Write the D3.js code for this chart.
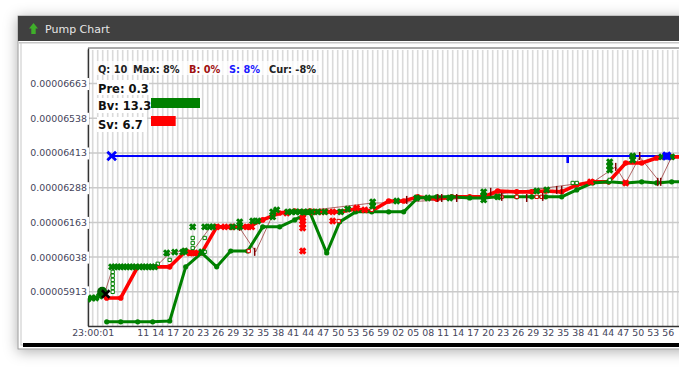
<!DOCTYPE html>
<html lang="en">
<head>
<meta charset="UTF-8" />
<title>Pump Chart</title>
<script src="https://d3js.org/d3.v7.min.js"></script>
<style>
    * { margin: 0; padding: 0; box-sizing: border-box; }
    body { background: #fff; overflow: hidden; }
    svg { display: block; }
    text { font-family: "DejaVu Sans", sans-serif; }
</style>
</head>
<body>
<svg width="679" height="372"></svg>
<script>
// prices are in units of 0.00000001, time in seconds after 23:00:00
var yTicks = [5913, 6038, 6163, 6288, 6413, 6538, 6663];
var xTickSec = [1, 11, 14, 17, 20, 23, 26, 29, 32, 35, 38, 41, 44, 47, 50, 53, 56, 59, 62, 65, 68, 71, 74, 77, 80, 83, 86, 89, 92, 95, 98, 101, 104, 107, 110, 113, 116];
var xTickLabels = ["23:00:01", "11", "14", "17", "20", "23", "26", "29", "32", "35", "38", "41", "44", "47", "50", "53", "56", "59", "02", "05", "08", "11", "14", "17", "20", "23", "26", "29", "32", "35", "38", "41", "44", "47", "50", "53", "56"];

// thick step lines
var stepSec = [3.8, 6.6, 10, 13, 16.4, 19.6, 22.8, 25.8, 28.6, 32, 35, 38.4, 41.4, 44.4, 47.8, 50.4, 53.6, 56.8, 60.2, 63.2, 66, 69.8, 72.8, 76.4, 79.2, 82, 85.8, 88.8, 91.6, 94.8, 97.8, 101, 104.2, 107.6, 110.8, 113.8, 116.8, 119];
var greenVals = [5805, 5805, 5805, 5805, 5808, 6003, 6053, 6003, 6060, 6060, 6147, 6147, 6172, 6201, 6053, 6165, 6201, 6201, 6201, 6201, 6251, 6255, 6255, 6251, 6251, 6255, 6255, 6255, 6255, 6255, 6280, 6305, 6309, 6305, 6309, 6305, 6309, 6309];
var redVals = [5891, 5891, 6003, 6003, 6003, 6060, 6053, 6147, 6147, 6147, 6172, 6197, 6204, 6204, 6201, 6201, 6211, 6204, 6240, 6240, 6255, 6247, 6255, 6255, 6255, 6276, 6273, 6273, 6276, 6273, 6298, 6309, 6309, 6377, 6377, 6395, 6399, 6399];

// thin trade path
var tradeSec = [3.4, 5, 14, 16.4, 19, 21, 24.4, 30.4, 33.6, 37, 57, 60.8, 76.4, 97.4, 100.8, 105.6, 107.6, 110.4, 114.4, 116.8];
var tradeVals = [5909, 5999, 6010, 6053, 6060, 6060, 6143, 6143, 6057, 6190, 6233, 6233, 6251, 6301, 6305, 6363, 6305, 6399, 6309, 6399];

// green crosses
var buySec = [0, 0.8, 1.6, 2.4, 4.8, 5.4, 6, 6.6, 7.2, 7.8, 8.4, 9, 9.6, 10.4, 11, 11.6, 12.2, 12.8, 13.4, 15.8, 17.4, 19, 19.4, 22.8, 21, 23.4, 24.4, 25, 29, 30.4, 30.4, 33, 34, 37, 37, 37.8, 40, 40.8, 41.6, 42.4, 43.2, 44, 44.8, 46, 47.4, 50.6, 52, 57, 57, 61.8, 65.8, 68, 72.4, 79.2, 79.2, 79.2, 82, 89.8, 91.8, 104.4, 104.4, 104.4, 109, 109, 114.8, 116.8];
var buyVals = [5887, 5891, 5891, 5898, 6003, 6003, 6003, 6003, 6003, 6003, 6003, 6003, 6003, 6003, 6003, 6003, 6003, 6003, 6003, 6053, 6056, 6056, 6060, 6057, 6147, 6147, 6147, 6147, 6147, 6147, 6165, 6168, 6168, 6201, 6183, 6208, 6201, 6201, 6201, 6201, 6201, 6201, 6201, 6201, 6201, 6201, 6211, 6237, 6222, 6240, 6251, 6251, 6251, 6273, 6258, 6244, 6255, 6276, 6280, 6381, 6366, 6352, 6402, 6388, 6399, 6399];

// hollow green squares
var buySqSec = [5, 5, 5, 5, 5, 5, 14, 16.4, 21, 21, 21, 23.4, 23.4, 104.4, 97, 97.8];
var buySqVals = [5985, 5971, 5956, 5942, 5927, 5913, 6014, 6028, 6107, 6089, 6071, 6107, 6057, 6316, 6305, 6305];

// red crosses
var sellSec = [20.4, 21.4, 25.8, 27.4, 28.8, 31.8, 32.8, 43, 43, 43, 43, 43, 49, 39.8, 46.8, 49, 45, 53.8, 55.4, 107.6, 100.6];
var sellVals = [6053, 6053, 6147, 6147, 6147, 6147, 6147, 6179, 6168, 6157, 6143, 6060, 6168, 6197, 6201, 6201, 6201, 6215, 6208, 6305, 6309];

// hollow red squares
var sellSqSec = [32.2, 50.2, 56.8, 82.8, 85.8, 89.8, 90.8];
var sellSqVals = [6060, 6168, 6208, 6255, 6255, 6255, 6255];

// dark red ticks
var markSec = [33.4, 30.4, 63.8, 70, 70.8, 73.8, 80.6, 82.8, 87.8, 91, 93.8, 94.8, 105.6, 110.4, 114, 114.6];
var markVals = [6057, 6147, 6244, 6251, 6251, 6251, 6273, 6255, 6251, 6255, 6280, 6280, 6363, 6402, 6309, 6309];

// blue target line and its markers
var targetVal = 6402;
var targetStart = 4.8;
var targetTickSec = 96;
var targetEndSec = 115.8;

// header figures
var headerParts = ["Q: 10", "Max: 8%", "B: 0%", "S: 8%", "Cur: -8%"];
var volNames = ["Bv: 13.3", "Sv: 6.7"];
var volValues = [13.3, 6.7];
var preLabel = "Pre: 0.3";

var svg = d3.select("svg");
var width = 679, height = 372;

var x = d3.scaleLinear().domain([0, 120]).range([87.7, 687.7]);
var y = d3.scaleLinear().domain([5790, 6791]).range([326, 48]);
var plotLeft = 88, plotTop = 48, plotBottom = 326;

function zip(a, b) { return a.map(function(d, i) { return [d, b[i]]; }); }

// window frame with shadow
var defs = svg.append("defs");
var shadow = defs.append("filter").attr("id", "shadow")
    .attr("x", "-10%").attr("y", "-15%").attr("width", "130%").attr("height", "130%");
shadow.append("feDropShadow").attr("dx", 0).attr("dy", 2).attr("stdDeviation", 7)
    .attr("flood-color", "#000").attr("flood-opacity", 0.32);
defs.append("clipPath").attr("id", "plot").append("rect")
    .attr("x", plotLeft).attr("y", plotTop).attr("width", width - plotLeft).attr("height", plotBottom - plotTop);

svg.append("rect").attr("x", 18).attr("y", 16).attr("width", 700).attr("height", 333)
    .attr("fill", "#fff").attr("stroke", "#9a9a9a").attr("filter", "url(#shadow)");
svg.append("rect").attr("x", 18).attr("y", 16).attr("width", 700).attr("height", 25).attr("fill", "#404040");
svg.append("rect").attr("x", 19).attr("y", 42).attr("width", 700).attr("height", 1.5).attr("fill", "#c4c4c4");
svg.append("rect").attr("x", 21).attr("y", 43).attr("width", 700).attr("height", 302).attr("fill", "#fff").attr("stroke", "#c8c8c8");
svg.append("rect").attr("x", 23).attr("y", 343).attr("width", 700).attr("height", 4).attr("fill", "#000");

// title icon and title
svg.append("path")
    .attr("d", "M33.5 23 L38 28.5 L35.7 28.5 L35.7 34 L31.3 34 L31.3 28.5 L29 28.5 Z")
    .attr("fill", "#3fae2a");
svg.append("text").attr("x", 45).attr("y", 33).attr("font-size", 11).attr("fill", "#e6e6e6").text("Pump Chart");

// grid
var gridSec = d3.range(0, 120);
svg.append("g").selectAll("line").data(gridSec).enter().append("line")
    .attr("x1", function(d) { return x(d); })
    .attr("x2", function(d) { return x(d); })
    .attr("y1", plotTop + 2).attr("y2", plotBottom)
    .attr("stroke", "#dadada").attr("stroke-width", 1.6);
svg.append("g").selectAll("line").data(yTicks).enter().append("line")
    .attr("x1", plotLeft - 3).attr("x2", width)
    .attr("y1", function(d) { return y(d); })
    .attr("y2", function(d) { return y(d); })
    .attr("stroke", "#cacaca").attr("stroke-width", 1.5);

// axes
var yAxis = d3.axisLeft(y).tickValues(yTicks).tickSize(0).tickPadding(1)
    .tickFormat(function(d) { return (d * 1e-8).toFixed(8); });
var yG = svg.append("g").attr("transform", "translate(" + plotLeft + ",0)").call(yAxis);
yG.select(".domain").attr("stroke", "#333").attr("stroke-width", 1.4);
// labels sit on a white patch that breaks the axis line
yG.selectAll(".tick").insert("rect", "text")
    .attr("x", -58).attr("y", -6).attr("width", 59).attr("height", 12).attr("fill", "#fff");
yG.selectAll("text").attr("font-size", 9.4).attr("fill", "#44445a")
    .style("font-family", "'DejaVu Sans', sans-serif");

var xAxis = d3.axisBottom(x).tickValues(xTickSec).tickSize(0).tickPadding(3)
    .tickFormat(function(d, i) { return xTickLabels[i]; });
var xG = svg.append("g").attr("transform", "translate(0," + plotBottom + ")").call(xAxis);
xG.select(".domain").attr("stroke", "#333").attr("stroke-width", 1.4);
xG.selectAll("text").attr("font-size", 9.4).attr("fill", "#44445a")
    .style("font-family", "'DejaVu Sans', sans-serif");

svg.append("line").attr("x1", plotLeft).attr("x2", width).attr("y1", plotTop).attr("y2", plotTop)
    .attr("stroke", "#555").attr("stroke-width", 1);

var plot = svg.append("g").attr("clip-path", "url(#plot)");
var line = d3.line().x(function(d) { return x(d[0]); }).y(function(d) { return y(d[1]); });

// blue line
plot.append("line")
    .attr("x1", x(targetStart)).attr("x2", width)
    .attr("y1", y(targetVal)).attr("y2", y(targetVal))
    .attr("stroke", "#0000ff").attr("stroke-width", 2);

// thin trades
plot.append("path").datum(zip(tradeSec, tradeVals)).attr("d", line)
    .attr("fill", "none").attr("stroke", "#800000").attr("stroke-opacity", 0.6).attr("stroke-width", 1);

// thick lines
var redData = zip(stepSec, redVals);
var greenData = zip(stepSec, greenVals);
plot.append("path").datum(redData).attr("d", line)
    .attr("fill", "none").attr("stroke", "#ff0000").attr("stroke-width", 3.6).attr("stroke-linejoin", "round");
plot.append("g").selectAll("circle").data(redData).enter().append("circle")
    .attr("cx", function(d) { return x(d[0]); }).attr("cy", function(d) { return y(d[1]); })
    .attr("r", 2.8).attr("fill", "#ff0000");
plot.append("path").datum(greenData).attr("d", line)
    .attr("fill", "none").attr("stroke", "#008000").attr("stroke-width", 3).attr("stroke-linejoin", "round");
plot.append("g").selectAll("circle").data(greenData).enter().append("circle")
    .attr("cx", function(d) { return x(d[0]); }).attr("cy", function(d) { return y(d[1]); })
    .attr("r", 2.6).attr("fill", "#008000");

// markers
var cross = d3.symbol().type(d3.symbolTimes).size(20);
var square = d3.symbol().type(d3.symbolSquare).size(11);
function place(d) { return "translate(" + x(d[0]) + "," + y(d[1]) + ")"; }

plot.append("g").selectAll("path").data(zip(sellSec, sellVals)).enter().append("path")
    .attr("d", cross).attr("transform", place)
    .attr("fill", "none").attr("stroke", "#ff0000").attr("stroke-width", 3);
plot.append("g").selectAll("path").data(zip(sellSqSec, sellSqVals)).enter().append("path")
    .attr("d", square).attr("transform", place)
    .attr("fill", "#fff").attr("stroke", "#e00000").attr("stroke-width", 1);
plot.append("g").selectAll("path").data(zip(markSec, markVals)).enter().append("line")
    .attr("x1", function(d) { return x(d[0]); }).attr("x2", function(d) { return x(d[0]); })
    .attr("y1", function(d) { return y(d[1]) - 4; }).attr("y2", function(d) { return y(d[1]) + 4; })
    .attr("stroke", "#800000").attr("stroke-width", 1.5);
plot.append("g").selectAll("path").data(zip(buySqSec, buySqVals)).enter().append("path")
    .attr("d", square).attr("transform", place)
    .attr("fill", "#fff").attr("stroke", "#008000").attr("stroke-width", 1);
plot.append("g").selectAll("path").data(zip(buySec, buyVals)).enter().append("path")
    .attr("d", cross).attr("transform", place)
    .attr("fill", "none").attr("stroke", "#008000").attr("stroke-width", 3);

// entry marks
plot.append("circle").attr("cx", x(2.9)).attr("cy", y(5913)).attr("r", 5).attr("fill", "#006400");
plot.append("path").attr("d", d3.symbol().type(d3.symbolTimes).size(40))
    .attr("transform", place([3.6, 5905])).attr("fill", "none").attr("stroke", "#000").attr("stroke-width", 2.6);

plot.append("path").attr("d", d3.symbol().type(d3.symbolTimes).size(50))
    .attr("transform", place([targetStart, targetVal])).attr("fill", "none").attr("stroke", "#0000ff").attr("stroke-width", 2.8);
plot.append("line")
    .attr("x1", x(targetTickSec)).attr("x2", x(targetTickSec))
    .attr("y1", y(targetVal)).attr("y2", y(targetVal) + 7)
    .attr("stroke", "#0000ff").attr("stroke-width", 2.6);
plot.append("path").attr("d", d3.symbol().type(d3.symbolTimes).size(36))
    .attr("transform", place([targetEndSec, targetVal])).attr("fill", "none").attr("stroke", "#0000ff").attr("stroke-width", 3);
plot.append("circle").attr("cx", x(targetEndSec)).attr("cy", y(targetVal)).attr("r", 3.6).attr("fill", "#0000ff");

// header text
var headerX = [98, 133, 189, 229, 269];
var headerColors = ["#222", "#222", "#a01010", "#1a1aff", "#222"];
svg.append("rect").attr("x", 95).attr("y", 61).attr("width", 226).attr("height", 14).attr("fill", "#fff").attr("fill-opacity", 0.75);
svg.append("g").selectAll("text").data(headerParts).enter().append("text")
    .attr("x", function(d, i) { return headerX[i]; })
    .attr("y", 73)
    .attr("font-size", 9.8).attr("font-weight", "bold")
    .attr("fill", function(d, i) { return headerColors[i]; })
    .text(function(d) { return d; });

// volume labels and bars
var volScale = d3.scaleLinear().domain([0, 13.3]).range([0, 49]);
var volY = [110, 129];
var volBarY = [98, 116];
var volColors = ["#008000", "#ff0000"];
svg.append("rect").attr("x", 97).attr("y", 80).attr("width", 52).attr("height", 15).attr("fill", "#fff");
svg.append("text").attr("x", 98).attr("y", 92.5).attr("font-size", 11.5).attr("font-weight", "bold").attr("fill", "#111").text(preLabel);
svg.append("g").selectAll("rect").data(volValues).enter().append("rect")
    .attr("x", 97).attr("y", function(d, i) { return volY[i] - 12; }).attr("width", 50).attr("height", 15).attr("fill", "#fff");
svg.append("g").selectAll("text").data(volNames).enter().append("text")
    .attr("x", 98).attr("y", function(d, i) { return volY[i]; })
    .attr("font-size", 11.5).attr("font-weight", "bold").attr("fill", "#111")
    .text(function(d) { return d; });
svg.append("g").selectAll("rect.bar").data(volValues).enter().append("rect")
    .attr("class", "bar")
    .attr("x", 151).attr("y", function(d, i) { return volBarY[i]; })
    .attr("width", function(d) { return volScale(d); }).attr("height", 10)
    .attr("fill", function(d, i) { return volColors[i]; });
</script>
</body>
</html>
